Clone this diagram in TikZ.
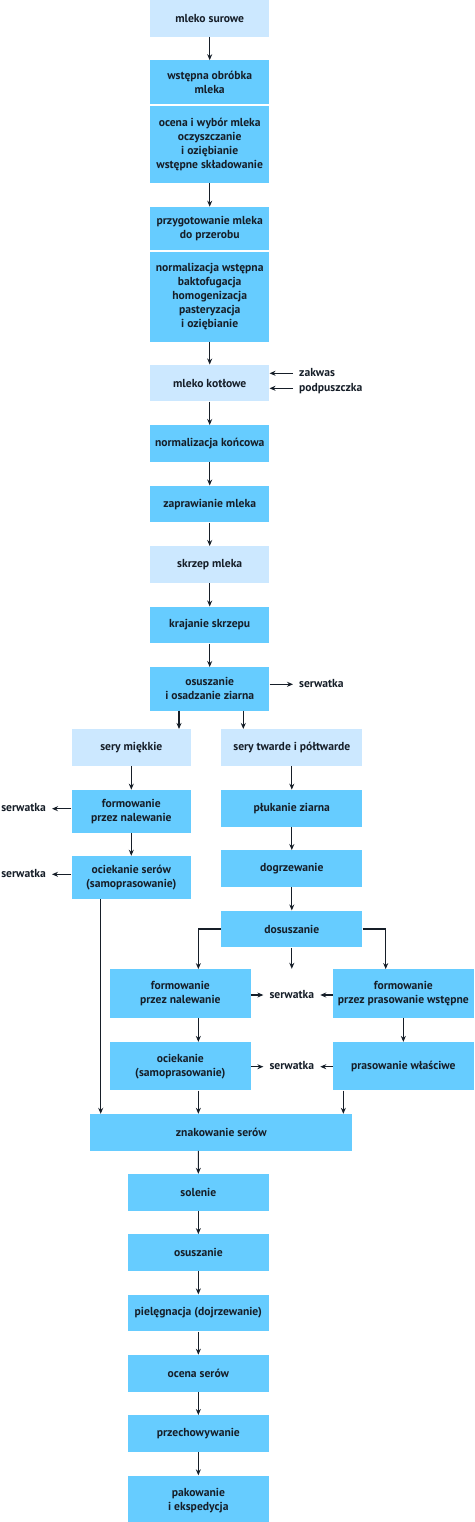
\documentclass[tikz,border=0pt]{standalone}
\usepackage{fontspec}
\setmainfont{PT Sans}
\usetikzlibrary{positioning,arrows.meta}
\definecolor{pale}{RGB}{204,232,255}
\definecolor{mid}{RGB}{102,204,255}
\definecolor{ink}{RGB}{22,30,40}

\begin{document}
\begin{tikzpicture}[x=1pt,y=-1pt,
						paleblue/.style={rectangle,fill=pale,text=ink,font=\bfseries\fontsize{11.6}{14}\selectfont,align=center,inner xsep=1pt,inner ysep=0pt,minimum width=119.3pt,minimum height=36.7pt},
						midblue/.style={paleblue,fill=mid},
						side/.style={text=ink,font=\bfseries\fontsize{11.6}{14}\selectfont,inner xsep=6pt,inner ysep=1pt,text height=8pt,text depth=2pt},
						arr/.style={-{Stealth[length=6pt,width=5pt]},line width=1.1pt,draw=ink}]
		\useasboundingbox (0,0) rectangle (474,1522);

		\node[paleblue]																(surowe)	at (209.7,18.35)	{mleko surowe};
		\node[midblue,node distance=23.3pt,below=of surowe,minimum height=43.3pt]		(obrobka)	{wstępna obróbka\\mleka};
		\node[midblue,node distance=2pt,below=of obrobka,minimum height=77pt]		(ocena)		{ocena i wybór mleka\\oczyszczanie\\i oziębianie\\wstępne składowanie};
		\node[midblue,node distance=23.4pt,below=of ocena,minimum height=43pt]		(przyg)		{przygotowanie mleka\\do przerobu};
		\node[midblue,node distance=2pt,below=of przyg,minimum height=89.3pt]		(normw)		{normalizacja wstępna\\baktofugacja\\homogenizacja\\pasteryzacja\\i oziębianie};
		\node[paleblue,node distance=22.7pt,below=of normw]							(kotlowe)	{mleko kotłowe};
		\node[midblue,node distance=23.4pt,below=of kotlowe]							(normk)		{normalizacja końcowa};
		\node[midblue,node distance=23.4pt,below=of normk]							(zapraw)	{zaprawianie mleka};
		\node[paleblue,node distance=23.4pt,below=of zapraw]							(skrzep)	{skrzep mleka};
		\node[midblue,node distance=23.4pt,below=of skrzep]							(krajanie)	{krajanie skrzepu};
		\node[midblue,node distance=23.4pt,below=of krajanie,minimum height=43.3pt]	(osadz)		{osuszanie\\i osadzanie ziarna};

		\node[side,anchor=west]		(zakwas)	at (293,373.3)	{zakwas};
		\node[side,anchor=west]		(podp)		at (293,388.3)	{podpuszczka};
		\node[side,anchor=west]		(serwT)		at (293,684.3)	{serwatka};

		\node[paleblue]																	(miekkie)	at (131.3,747.5)	{sery miękkie};
		\node[midblue,node distance=23.6pt,below=of miekkie,minimum height=42.7pt]		(formL)		{formowanie\\przez nalewanie};
		\node[midblue,node distance=23pt,below=of formL,minimum height=42.7pt]			(ociekL)	{ociekanie serów\\(samoprasowanie)};
		\node[side,anchor=east]		(serwL1)	at (52,808.7)	{serwatka};
		\node[side,anchor=east]		(serwL2)	at (52,874.3)	{serwatka};

		\node[paleblue,minimum width=141pt]												(twarde)	at (291.8,747.5)	{sery twarde i półtwarde};
		\node[midblue,minimum width=141pt,node distance=23.6pt,below=of twarde]			(plukanie)	{płukanie ziarna};
		\node[midblue,minimum width=141pt,node distance=23.3pt,below=of plukanie]		(dogrz)		{dogrzewanie};
		\node[midblue,minimum width=141pt,node distance=23.3pt,below=of dogrz]			(dosusz)	{dosuszanie};

		\node[midblue,minimum width=140.7pt,minimum height=48.4pt]						(formM)		at (180.35,993.5)	{formowanie\\przez nalewanie};
		\node[midblue,minimum width=141.3pt,minimum height=48.4pt]						(formP)		at (403.35,993.5)	{formowanie\\przez prasowanie wstępne};
		\node[midblue,minimum width=140.7pt,minimum height=48.3pt,node distance=24pt,below=of formM]	(ociekM)	{ociekanie\\(samoprasowanie)};
		\node[midblue,minimum width=141.3pt,minimum height=48.3pt,node distance=24pt,below=of formP]	(prasW)		{prasowanie właściwe};
		\node[side]					(serwM1)	at (291.8,995)		{serwatka};
		\node[side]					(serwM2)	at (291.8,1066.7)	{serwatka};

		\node[midblue,minimum width=262pt]												(znak)		at (221.3,1132.35)	{znakowanie serów};
		\node[midblue,minimum width=141.3pt]											(solenie)	at (198.35,1192.35)	{solenie};
		\node[midblue,minimum width=141.3pt,node distance=23.2pt,below=of solenie]		(osusz)		{osuszanie};
		\node[midblue,minimum width=141.3pt,node distance=23.2pt,below=of osusz]		(pieleg)	{pielęgnacja (dojrzewanie)};
		\node[midblue,minimum width=141.3pt,node distance=23.2pt,below=of pieleg]		(ocenas)	{ocena serów};
		\node[midblue,minimum width=141.3pt,node distance=23.2pt,below=of ocenas]		(przech)	{przechowywanie};
		\node[midblue,minimum width=141.3pt,minimum height=49.3pt,node distance=23.2pt,below=of przech]	(pakow)	{pakowanie\\i ekspedycja};

		\draw[arr] (surowe) -- (obrobka);
		\draw[arr] (ocena) -- (przyg);
		\draw[arr] (normw) -- (kotlowe);
		\draw[arr] (kotlowe) -- (normk);
		\draw[arr] (normk) -- (zapraw);
		\draw[arr] (zapraw) -- (skrzep);
		\draw[arr] (skrzep) -- (krajanie);
		\draw[arr] (krajanie) -- (osadz);
		\draw[arr] (zakwas) -- (zakwas -| kotlowe.east);
		\draw[arr] (podp) -- (podp -| kotlowe.east);
		\draw[arr] (osadz.east |- serwT) -- (serwT);
		\draw[arr] ([xshift=-30.7pt]osadz.south) -- ([xshift=-30.7pt]osadz.south |- miekkie.north);
		\draw[arr] ([xshift=33.6pt]osadz.south) -- ([xshift=33.6pt]osadz.south |- twarde.north);

		\draw[arr] (miekkie) -- (formL);
		\draw[arr] (formL) -- (ociekL);
		\draw[arr] (formL.west |- serwL1) -- (serwL1);
		\draw[arr] (ociekL.west |- serwL2) -- (serwL2);
		\draw[arr] ([xshift=-30.6pt]ociekL.south) -- ([xshift=-30.6pt]ociekL.south |- znak.north);

		\draw[arr] (twarde) -- (plukanie);
		\draw[arr] (plukanie) -- (dogrz);
		\draw[arr] (dogrz) -- (dosusz);
		\draw[arr] (dosusz.west) -| ([xshift=18pt]formM.north);
		\draw[arr] (dosusz.east) -| ([xshift=-17.65pt]formP.north);
		\draw[arr,shorten >=20pt] (dosusz) -- (serwM1);
		\draw[arr] (formM.east |- serwM1) -- (serwM1);
		\draw[arr] (formP.west |- serwM1) -- (serwM1);
		\draw[arr] ([xshift=18pt]formM.south) -- ([xshift=18pt]ociekM.north);
		\draw[arr] (formP) -- (prasW);
		\draw[arr] (ociekM.east |- serwM2) -- (serwM2);
		\draw[arr] (prasW.west |- serwM2) -- (serwM2);
		\draw[arr] ([xshift=18pt]ociekM.south) -- ([xshift=18pt]ociekM.south |- znak.north);
		\draw[arr] ([xshift=-60pt]prasW.south) -- ([xshift=-60pt]prasW.south |- znak.north);

		\draw[arr] ([xshift=-23pt]znak.south) -- (solenie);
		\draw[arr] (solenie) -- (osusz);
		\draw[arr] (osusz) -- (pieleg);
		\draw[arr] (pieleg) -- (ocenas);
		\draw[arr] (ocenas) -- (przech);
		\draw[arr] (przech) -- (pakow);
	\end{tikzpicture}
\end{document}
